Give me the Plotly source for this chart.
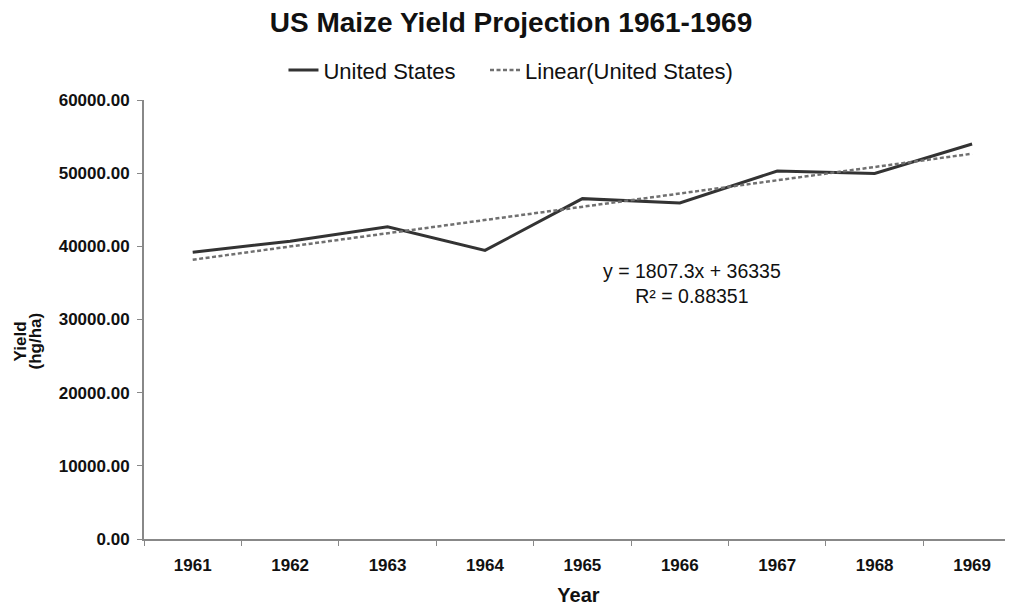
import numpy as np
import plotly.graph_objects as go

years = ["1961", "1962", "1963", "1964", "1965", "1966", "1967", "1968", "1969"]
us_yield = [39190, 40700, 42670, 39450, 46520, 45930, 50300, 49950, 53980]
eq_text = "y = 1807.3x + 36335<br>R² = 0.88351"
y_ticks = [0, 10000, 20000, 30000, 40000, 50000, 60000]

idx = np.arange(1, len(years) + 1)
slope, intercept = np.polyfit(idx, us_yield, 1)
trend = slope * idx + intercept

FONT = "Liberation Sans, Arial, sans-serif"
INK = "#111111"
NB = "\u00a0"

fig = go.Figure()
fig.add_trace(go.Scatter(
    x=years, y=us_yield, mode="lines", name="United States" + NB * 4,
    line=dict(color="#333333", width=3)))
fig.add_trace(go.Scatter(
    x=years, y=list(trend), mode="lines", name="Linear(United States)",
    line=dict(color="#707070", width=2.5, dash="4px,2.5px")))

fig.add_annotation(x=5.12, y=34900, xref="x", yref="y", text=eq_text,
                   showarrow=False, font=dict(family=FONT, size=19.5, color=INK),
                   align="center")
# y-axis title as two tightly spaced rotated lines
fig.add_annotation(x=-0.1427, y=0.45, xref="paper", yref="paper", text="<b>Yield</b>",
                   textangle=-90, showarrow=False, xanchor="center", yanchor="middle",
                   font=dict(family=FONT, size=17, color=INK))
fig.add_annotation(x=-0.1254, y=0.45, xref="paper", yref="paper", text="<b>(hg/ha)</b>",
                   textangle=-90, showarrow=False, xanchor="center", yanchor="middle",
                   font=dict(family=FONT, size=17, color=INK))

fig.update_layout(
    width=1005, height=598,
    margin=dict(l=136, r=0, t=92, b=67, autoexpand=False),
    paper_bgcolor="white", plot_bgcolor="white",
    font=dict(family=FONT, color=INK),
    title=dict(text="<b>US Maize Yield Projection 1961-1969</b>",
               x=0.5005, xref="container", xanchor="center", y=0.9766, yanchor="middle",
               font=dict(family=FONT, size=28, color=INK)),
    legend=dict(orientation="h", x=0.4223, xanchor="center",
                y=1.068, yanchor="middle",
                font=dict(family=FONT, size=22, color=INK),
                itemwidth=30, bgcolor="rgba(0,0,0,0)"),
    showlegend=True,
)
fig.update_xaxes(
    type="category", range=[-0.5, 8.42], tickson="boundaries",
    tickvals=years, ticktext=[f"<b>{y}</b>" for y in years], tickangle=0,
    showline=True, linecolor="#888888", linewidth=2,
    ticks="outside", ticklen=5, tickcolor="#888888", ticklabelstandoff=10,
    showgrid=False, zeroline=False, automargin=False,
    tickfont=dict(family=FONT, size=17, color=INK),
    title=dict(text="<b>Year</b>", font=dict(family=FONT, size=20, color=INK), standoff=14),
)
fig.update_yaxes(
    range=[0, 60000], tickvals=y_ticks,
    ticktext=[f"<b>{v:.2f}</b>" for v in y_ticks],
    showline=True, linecolor="#888888", linewidth=2,
    ticks="outside", ticklen=5, tickcolor="#888888", ticklabelstandoff=4,
    showgrid=False, zeroline=False, automargin=False,
    tickfont=dict(family=FONT, size=17, color=INK),
)
fig.write_html("out.html")
